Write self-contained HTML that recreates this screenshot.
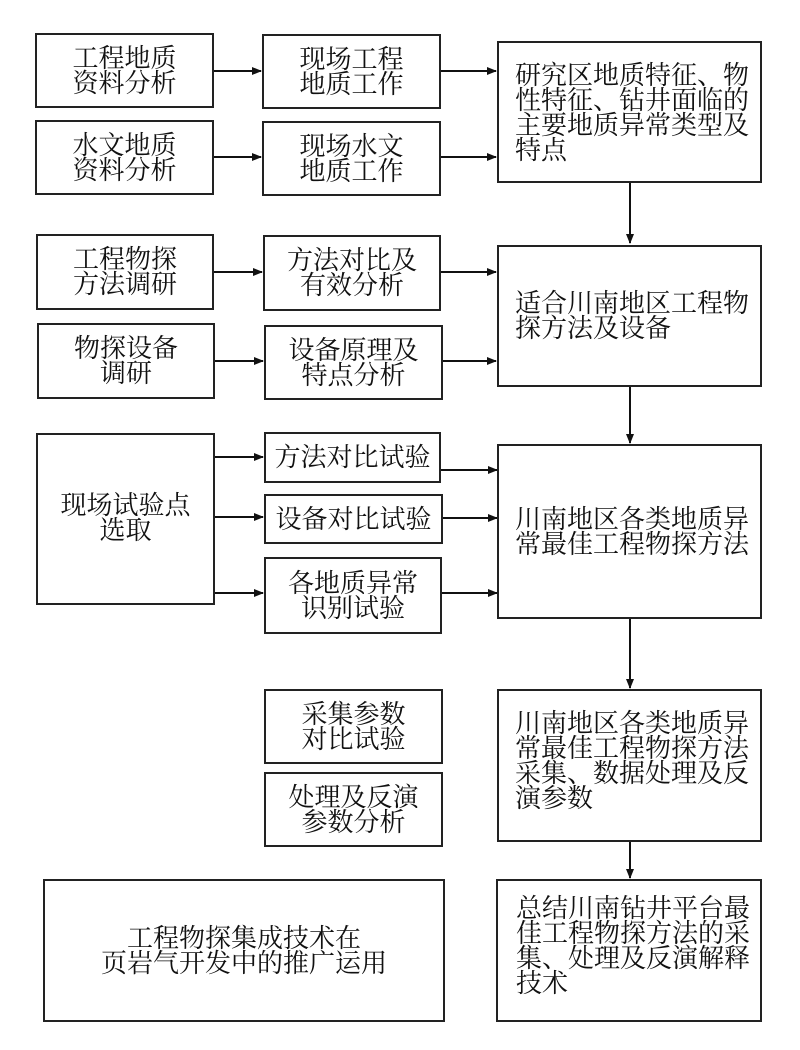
<!DOCTYPE html>
<html><head><meta charset="utf-8"><style>
body{margin:0;background:#fff;}
#c{position:relative;width:800px;height:1050px;overflow:hidden;font-family:"Liberation Serif","Noto Serif CJK SC","Noto Sans CJK SC",serif;color:#111;}
.b{position:absolute;box-sizing:border-box;border:2px solid #222;display:flex;align-items:center;justify-content:center;text-align:center;font-size:26px;line-height:25px;}
.l{justify-content:flex-start;text-align:left;padding-left:16px;}
svg{position:absolute;left:0;top:0;}
</style></head><body><div id="c">
<svg width="800" height="1050">
<defs><marker id="a" markerWidth="10" markerHeight="8" refX="9" refY="4" orient="auto" markerUnits="userSpaceOnUse"><path d="M0,0 L10,4 L0,8 Z" fill="#111"/></marker></defs>
<g stroke="#111" stroke-width="2" marker-end="url(#a)">
<line x1="214" y1="71" x2="261" y2="71"/>
<line x1="441" y1="71" x2="496" y2="71"/>
<line x1="214" y1="157" x2="261" y2="157"/>
<line x1="441" y1="157" x2="496" y2="157"/>
<line x1="630" y1="183" x2="630" y2="243"/>
<line x1="214" y1="272" x2="262" y2="272"/>
<line x1="441" y1="272" x2="496" y2="272"/>
<line x1="215" y1="361" x2="263" y2="361"/>
<line x1="443" y1="361" x2="496" y2="361"/>
<line x1="630" y1="387" x2="630" y2="443"/>
<line x1="215" y1="457" x2="263" y2="457"/>
<line x1="215" y1="517" x2="263" y2="517"/>
<line x1="215" y1="593" x2="263" y2="593"/>
<line x1="441" y1="470" x2="497" y2="470"/>
<line x1="443" y1="518" x2="497" y2="518"/>
<line x1="441" y1="593" x2="497" y2="593"/>
<line x1="630" y1="619" x2="630" y2="688"/>
<line x1="630" y1="842" x2="630" y2="878"/>
</g></svg>
<div class="b" style="left:35px;top:33px;width:179px;height:75px">工程地质<br>资料分析</div>
<div class="b" style="left:262px;top:34px;width:179px;height:75px">现场工程<br>地质工作</div>
<div class="b l" style="left:497px;top:41px;width:265px;height:142px;align-items:flex-start;padding-top:20px">研究区地质特征、物<br>性特征、钻井面临的<br>主要地质异常类型及<br>特点</div>
<div class="b" style="left:35px;top:120px;width:179px;height:75px">水文地质<br>资料分析</div>
<div class="b" style="left:262px;top:121px;width:179px;height:75px">现场水文<br>地质工作</div>
<div class="b" style="left:36px;top:234px;width:178px;height:76px">工程物探<br>方法调研</div>
<div class="b" style="left:263px;top:235px;width:178px;height:76px">方法对比及<br>有效分析</div>
<div class="b l" style="left:497px;top:245px;width:265px;height:142px">适合川南地区工程物<br>探方法及设备</div>
<div class="b" style="left:37px;top:323px;width:178px;height:76px">物探设备<br>调研</div>
<div class="b" style="left:264px;top:325px;width:179px;height:75px">设备原理及<br>特点分析</div>
<div class="b" style="left:36px;top:433px;width:179px;height:172px;align-items:flex-start;padding-top:58px">现场试验点<br>选取</div>
<div class="b" style="left:264px;top:432px;width:177px;height:51px">方法对比试验</div>
<div class="b" style="left:264px;top:494px;width:179px;height:50px">设备对比试验</div>
<div class="b" style="left:264px;top:557px;width:178px;height:77px">各地质异常<br>识别试验</div>
<div class="b l" style="left:497px;top:444px;width:265px;height:175px">川南地区各类地质异<br>常最佳工程物探方法</div>
<div class="b" style="left:264px;top:689px;width:179px;height:75px">采集参数<br>对比试验</div>
<div class="b" style="left:264px;top:772px;width:179px;height:75px">处理及反演<br>参数分析</div>
<div class="b l" style="left:497px;top:689px;width:265px;height:153px;padding-bottom:10px">川南地区各类地质异<br>常最佳工程物探方法<br>采集、数据处理及反<br>演参数</div>
<div class="b" style="left:43px;top:879px;width:402px;height:143px">工程物探集成技术在<br>页岩气开发中的推广运用</div>
<div class="b l" style="left:496px;top:879px;width:266px;height:143px;padding-left:18px;padding-bottom:10px">总结川南钻井平台最<br>佳工程物探方法的采<br>集、处理及反演解释<br>技术</div>
</div></body></html>
